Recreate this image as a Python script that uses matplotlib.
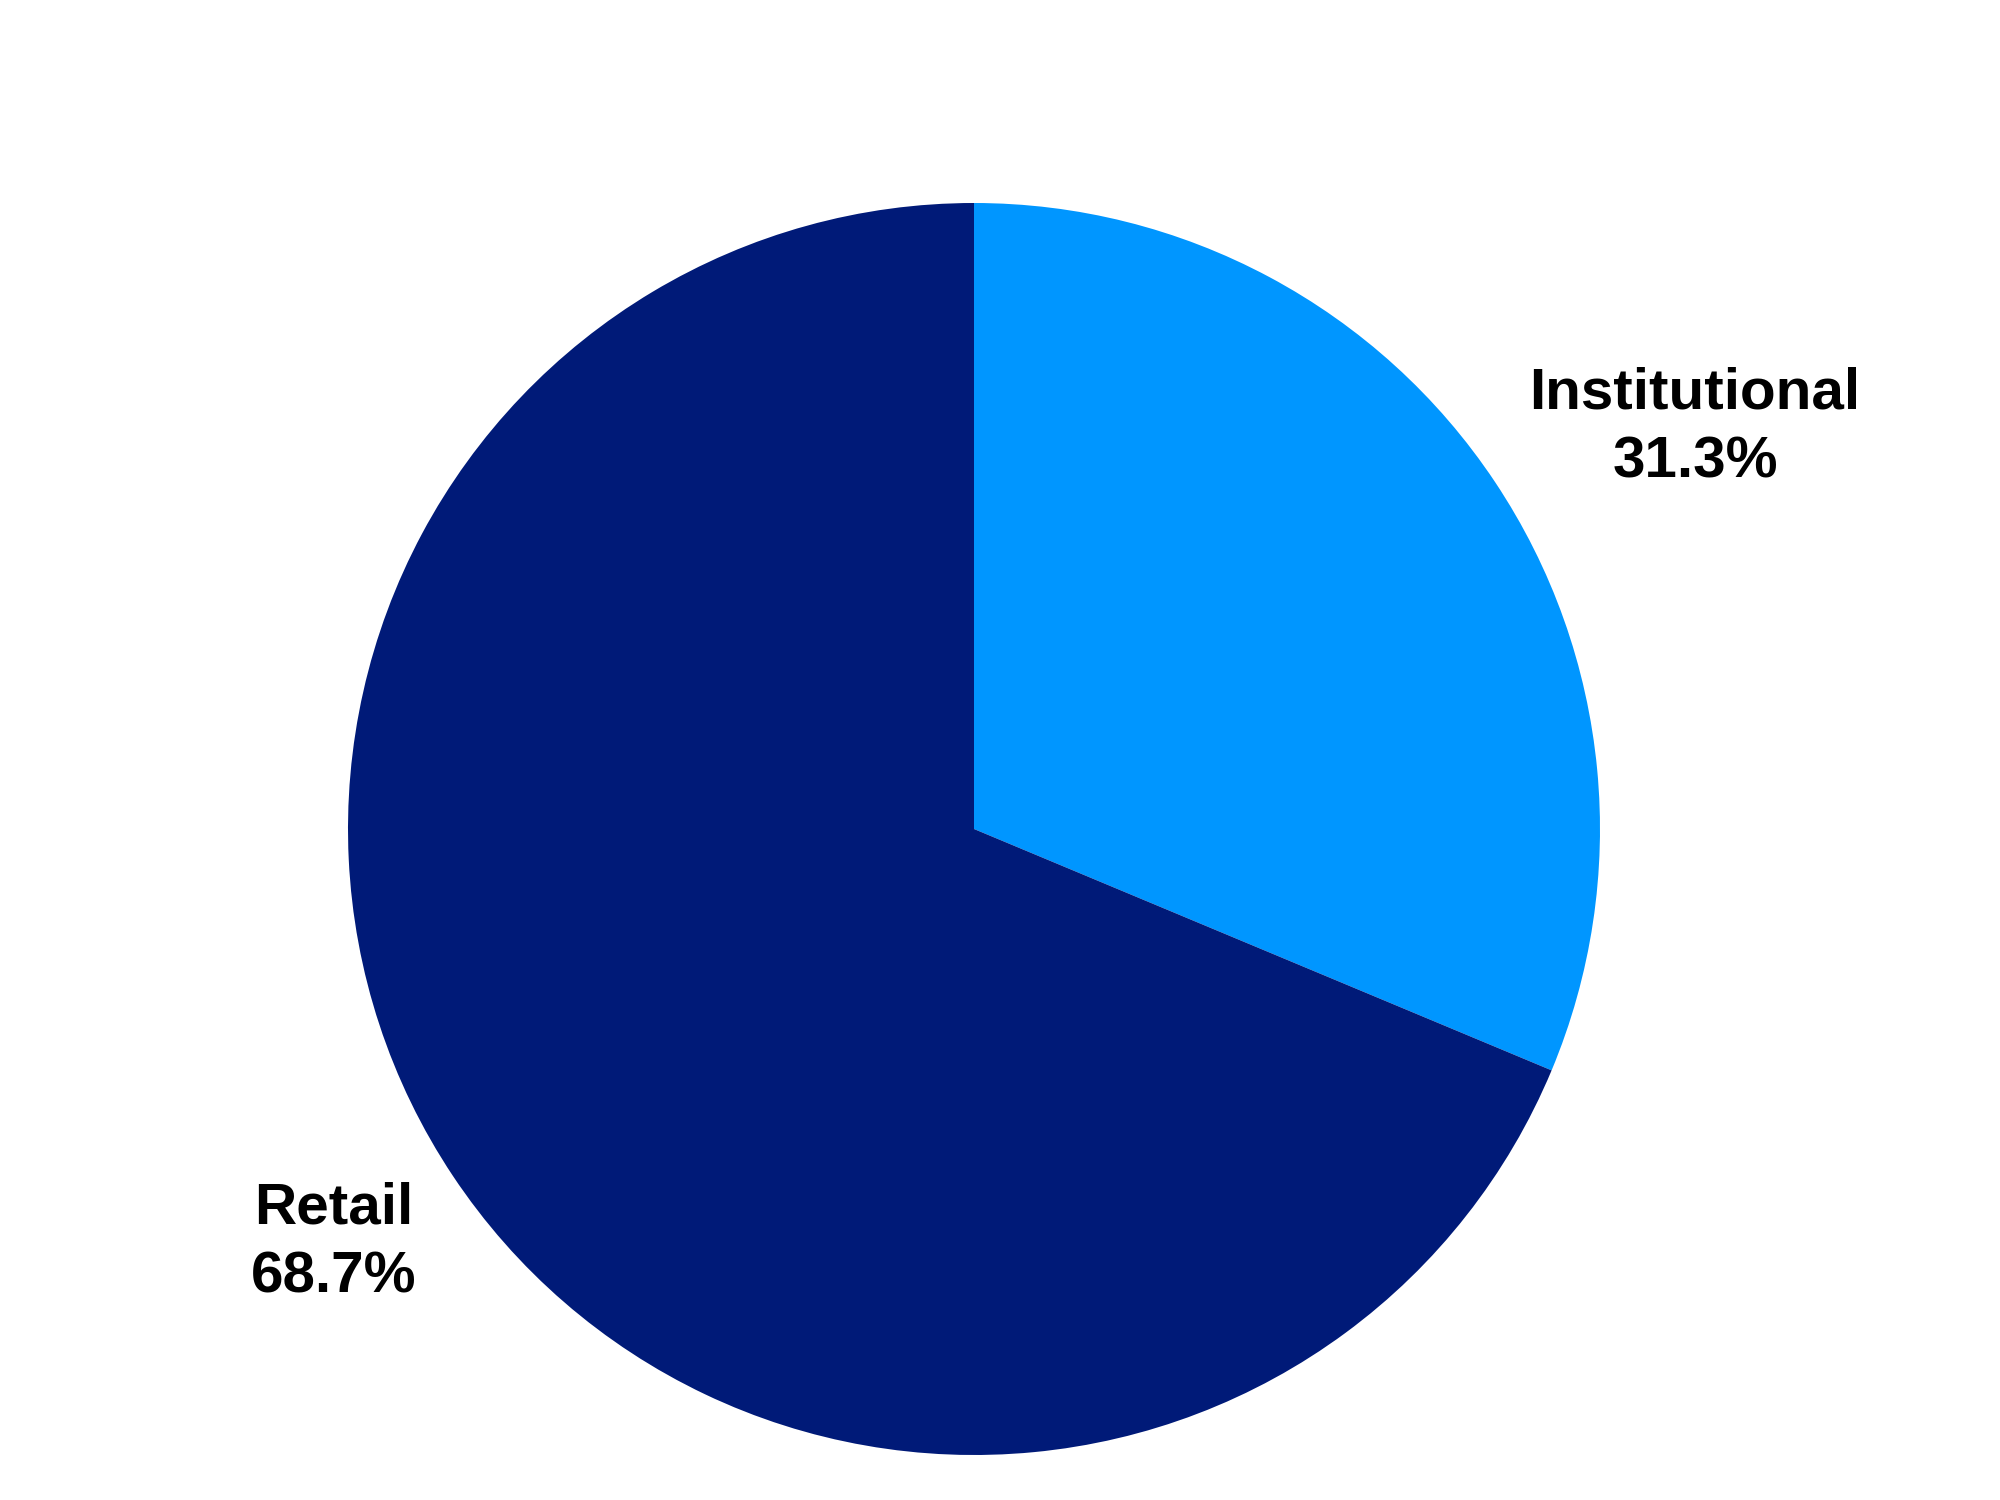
import matplotlib.pyplot as plt
import numpy as np

labels = ["Institutional", "Retail"]
shares = [31.3, 68.7]
colors = ["#0096FF", "#001A78"]

plt.rcParams['font.family'] = ['Liberation Sans', 'DejaVu Sans']

fig = plt.figure(figsize=(20, 15), dpi=100)
ax = fig.add_axes([0, 0, 1, 1])

# pie placed in pixel-like data coords
cx, cy, r = 974, 1500 - 829, 626
ax.pie(shares, colors=colors, startangle=90, counterclock=False,
       center=(cx, cy), radius=r, wedgeprops=dict(linewidth=0))

ax.set_xlim(0, 2000)
ax.set_ylim(0, 1500)
ax.set_aspect('equal')
ax.axis('off')

# label positions (distance factor, angle in degrees) tuned to the reference
label_pos = [(1.318, 29.1), (1.218, 212.9)]
for lab, val, (d, ang) in zip(labels, shares, label_pos):
    a = np.deg2rad(ang)
    ax.text(cx + d * r * np.cos(a), cy + d * r * np.sin(a),
            f"{lab}\n{val:.1f}%", ha='center', va='center',
            fontsize=42, fontweight='bold', color='black', linespacing=1.35)

fig.savefig("out.png", dpi=100)
